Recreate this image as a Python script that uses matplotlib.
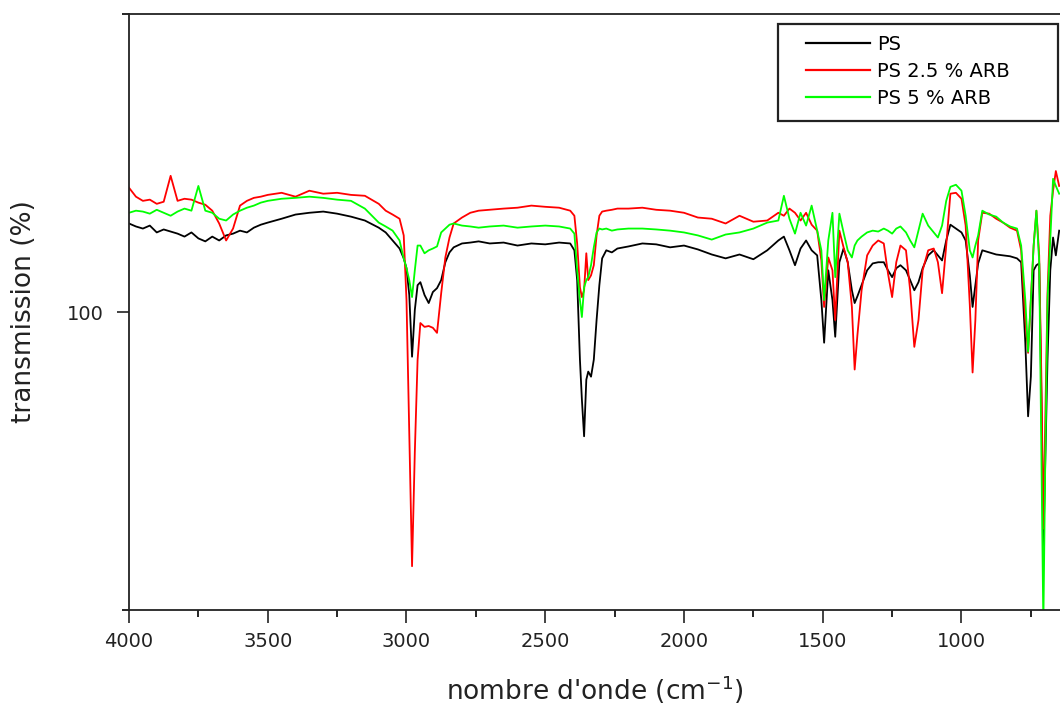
import numpy as np
import matplotlib.pyplot as plt
from matplotlib.patches import Rectangle
from matplotlib.ticker import FixedLocator, NullFormatter

# wavenumber grid (cm-1) and transmission
wn = [4000, 3975, 3950, 3925, 3900, 3875, 3850, 3825, 3800, 3775, 3750, 3725, 3700, 3675, 3650, 3625,
      3600, 3575, 3550, 3525, 3500, 3450, 3400, 3350, 3300, 3250, 3200, 3150, 3100, 3075, 3050, 3025,
      3010, 3000, 2990, 2980, 2970, 2960, 2950, 2935, 2920, 2905, 2890, 2875, 2860, 2845, 2830, 2800,
      2770, 2740, 2700, 2650, 2600, 2550, 2500, 2450, 2410, 2395, 2385, 2375, 2368, 2360, 2352, 2345,
      2335, 2325, 2315, 2305, 2295, 2280, 2260, 2240, 2200, 2150, 2100, 2050, 2000, 1950, 1900, 1850,
      1800, 1750, 1700, 1660, 1640, 1620, 1600, 1580, 1560, 1540, 1520, 1505, 1495, 1480, 1465, 1455,
      1440, 1425, 1410, 1395, 1385, 1375, 1360, 1340, 1320, 1300, 1280, 1265, 1250, 1235, 1220, 1200,
      1185, 1170, 1155, 1140, 1120, 1100, 1085, 1070, 1055, 1040, 1020, 1000, 985, 970, 960, 950,
      940, 925, 900, 875, 850, 825, 800, 785, 770, 760, 750, 740, 730, 720, 712, 705,
      698, 690, 680, 670, 660, 648]

ps = [129.7, 128.7, 128.0, 129.0, 126.7, 127.7, 127.0, 126.3, 125.3, 126.7, 124.7, 123.7, 125.3, 124.0, 125.7, 126.3,
      127.3, 126.7, 128.3, 129.3, 130.0, 131.3, 132.7, 133.3, 133.7, 133.0, 132.0, 130.7, 128.3, 126.7, 124.0, 121.3,
      118.0, 114.7, 105.7, 85.0, 100.7, 109.0, 110.0, 105.7, 103.0, 106.7, 108.0, 110.7, 116.7, 120.0, 121.7, 123.0,
      123.3, 123.7, 123.0, 123.3, 122.3, 123.0, 122.7, 123.3, 123.0, 120.7, 110.7, 84.0, 70.7, 58.3, 77.3, 80.0,
      78.3, 84.0, 97.3, 109.0, 118.0, 120.7, 120.0, 121.3, 122.0, 123.0, 122.7, 121.7, 122.3, 121.0, 119.3, 118.0,
      119.3, 117.7, 120.7, 124.0, 125.3, 120.7, 115.7, 121.3, 124.0, 120.7, 119.0, 104.0, 89.7, 114.0, 104.0, 91.7,
      116.7, 121.3, 116.7, 107.3, 103.0, 105.3, 109.0, 114.0, 116.3, 116.7, 116.7, 114.0, 111.7, 114.7, 115.7, 114.0,
      110.7, 107.3, 110.0, 114.7, 119.0, 120.7, 119.0, 117.3, 124.0, 129.3, 128.0, 126.7, 124.0, 112.3, 101.7, 109.0,
      116.3, 120.7, 120.0, 119.3, 119.0, 118.7, 118.0, 116.7, 89.7, 65.0, 78.3, 114.0, 115.7, 116.3, 70.7, 20.7,
      50.7, 84.0, 114.0, 125.0, 119.0, 127.3]

ps_25 = [141.7, 138.7, 137.3, 137.7, 136.3, 137.0, 145.7, 137.3, 138.0, 137.7, 136.7, 136.0, 134.0, 129.7, 124.0, 128.0,
         135.7, 137.3, 138.3, 138.7, 139.3, 140.0, 138.7, 140.7, 139.7, 140.0, 139.3, 139.0, 136.3, 134.0, 132.7, 131.3,
         125.7, 104.0, 59.7, 14.7, 53.0, 84.0, 96.3, 95.0, 95.3, 94.7, 93.0, 106.3, 118.3, 125.0, 129.7, 131.7,
         133.3, 134.0, 134.3, 134.7, 135.0, 135.7, 135.3, 135.0, 134.0, 132.3, 123.0, 108.3, 105.0, 107.3, 119.7, 110.7,
         112.3, 115.7, 125.7, 132.3, 133.7, 134.0, 134.3, 134.7, 134.7, 135.0, 134.3, 134.0, 133.3, 131.7, 131.3, 129.7,
         132.3, 130.3, 130.7, 133.3, 132.3, 134.7, 133.3, 130.7, 133.3, 129.3, 127.3, 117.3, 101.7, 118.3, 114.0, 97.3,
         127.3, 121.7, 116.7, 101.7, 80.7, 92.3, 107.3, 119.0, 122.3, 124.0, 123.0, 113.0, 105.0, 116.7, 122.3, 120.7,
         107.3, 88.3, 97.3, 114.0, 120.7, 121.3, 116.7, 106.3, 122.3, 139.7, 140.0, 138.0, 129.0, 102.3, 79.7, 97.3,
         124.0, 133.3, 133.0, 131.3, 130.0, 128.3, 127.3, 120.7, 97.3, 86.3, 104.0, 122.3, 134.0, 119.0, 77.3, 27.3,
         64.0, 106.3, 132.3, 140.7, 147.3, 142.3]

ps_5 = [133.3, 134.0, 133.7, 133.0, 134.3, 133.3, 132.3, 133.7, 134.7, 134.0, 142.3, 134.0, 133.3, 131.3, 130.7, 132.7,
        134.0, 135.0, 135.7, 136.7, 137.3, 138.0, 138.3, 138.7, 138.3, 137.7, 137.3, 134.7, 130.0, 128.7, 127.3, 124.0,
        118.0, 114.7, 110.7, 105.0, 114.0, 122.3, 122.3, 119.7, 120.7, 121.3, 122.0, 126.7, 128.0, 129.3, 129.7, 129.0,
        128.7, 128.3, 128.7, 129.0, 128.3, 128.7, 129.0, 128.7, 128.0, 126.3, 114.0, 104.0, 98.3, 108.3, 110.7, 111.7,
        115.7, 121.7, 126.7, 128.0, 127.7, 128.0, 127.3, 127.7, 128.0, 128.0, 127.7, 127.3, 126.7, 125.7, 124.3, 126.0,
        126.7, 128.0, 130.0, 130.7, 139.0, 131.3, 126.3, 133.3, 129.0, 135.7, 127.3, 120.7, 104.0, 124.0, 133.3, 111.7,
        133.0, 126.7, 120.7, 118.3, 122.3, 124.0, 125.3, 126.7, 127.3, 127.0, 128.0, 127.3, 126.3, 128.0, 128.7, 126.7,
        124.0, 121.7, 127.3, 133.0, 129.0, 126.7, 125.0, 129.0, 137.3, 142.0, 142.7, 140.7, 132.3, 120.7, 118.3, 122.3,
        125.7, 134.0, 132.7, 132.0, 130.0, 128.7, 128.0, 122.3, 104.0, 86.7, 104.0, 122.3, 134.0, 116.7, 50.7, -5.0,
        50.7, 104.0, 124.0, 144.7, 142.3, 139.7]

labels = ["PS", "PS 2.5 % ARB", "PS 5 % ARB"]
colors = ["#000000", "#ff0000", "#00ff00"]

fig = plt.figure(figsize=(10.6, 7.06), dpi=100)
ax = fig.add_axes([129 / 1060, 96 / 706, 931 / 1060, 596 / 706])

for vals, lab, col in zip([ps, ps_25, ps_5], labels, colors):
    ax.plot(wn, vals, color=col, lw=1.3, label=lab)

ax.set_xlim(4000, 645)
ax.set_ylim(0, 200)

ax.xaxis.set_major_locator(FixedLocator([4000, 3500, 3000, 2500, 2000, 1500, 1000]))
ax.xaxis.set_minor_locator(FixedLocator([3750, 3250, 2750, 2250, 1750, 1250, 750]))
ax.yaxis.set_major_locator(FixedLocator([100]))
ax.yaxis.set_minor_locator(FixedLocator([0, 200]))
ax.yaxis.set_minor_formatter(NullFormatter())

ax.tick_params(axis="both", which="major", direction="out", length=9, width=1.2,
               labelsize=14, colors="#222222")
ax.tick_params(axis="both", which="minor", direction="out", length=5, width=1.2)
ax.tick_params(axis="x", pad=7)
ax.tick_params(axis="y", pad=9)

for side in ["left", "bottom", "top"]:
    ax.spines[side].set_linewidth(1.3)
    ax.spines[side].set_color("#222222")
ax.spines["right"].set_visible(False)

ax.set_xlabel("nombre d'onde (cm$^{-1}$)", fontsize=19, color="#222222", labelpad=16)
ax.set_ylabel("transmission (%)", fontsize=19, color="#222222", labelpad=22)

# legend entries without frame, box drawn separately to match the wide original
box = Rectangle((778 / 1060, 1 - 121 / 706), 280 / 1060, 97 / 706,
                transform=fig.transFigure, facecolor="white", edgecolor="#222222",
                lw=1.6, zorder=4, clip_on=False)
ax.add_patch(box)
leg = ax.legend(loc="upper left", bbox_to_anchor=(806 / 1060, 1 - 35 / 706),
                bbox_transform=fig.transFigure, fontsize=14, frameon=False,
                handlelength=3.3, handletextpad=0.35, labelspacing=0.4, borderpad=0,
                borderaxespad=0)
leg.set_zorder(5)
for line in leg.get_lines():
    line.set_linewidth(1.6)

fig.savefig("out.png", dpi=100)
